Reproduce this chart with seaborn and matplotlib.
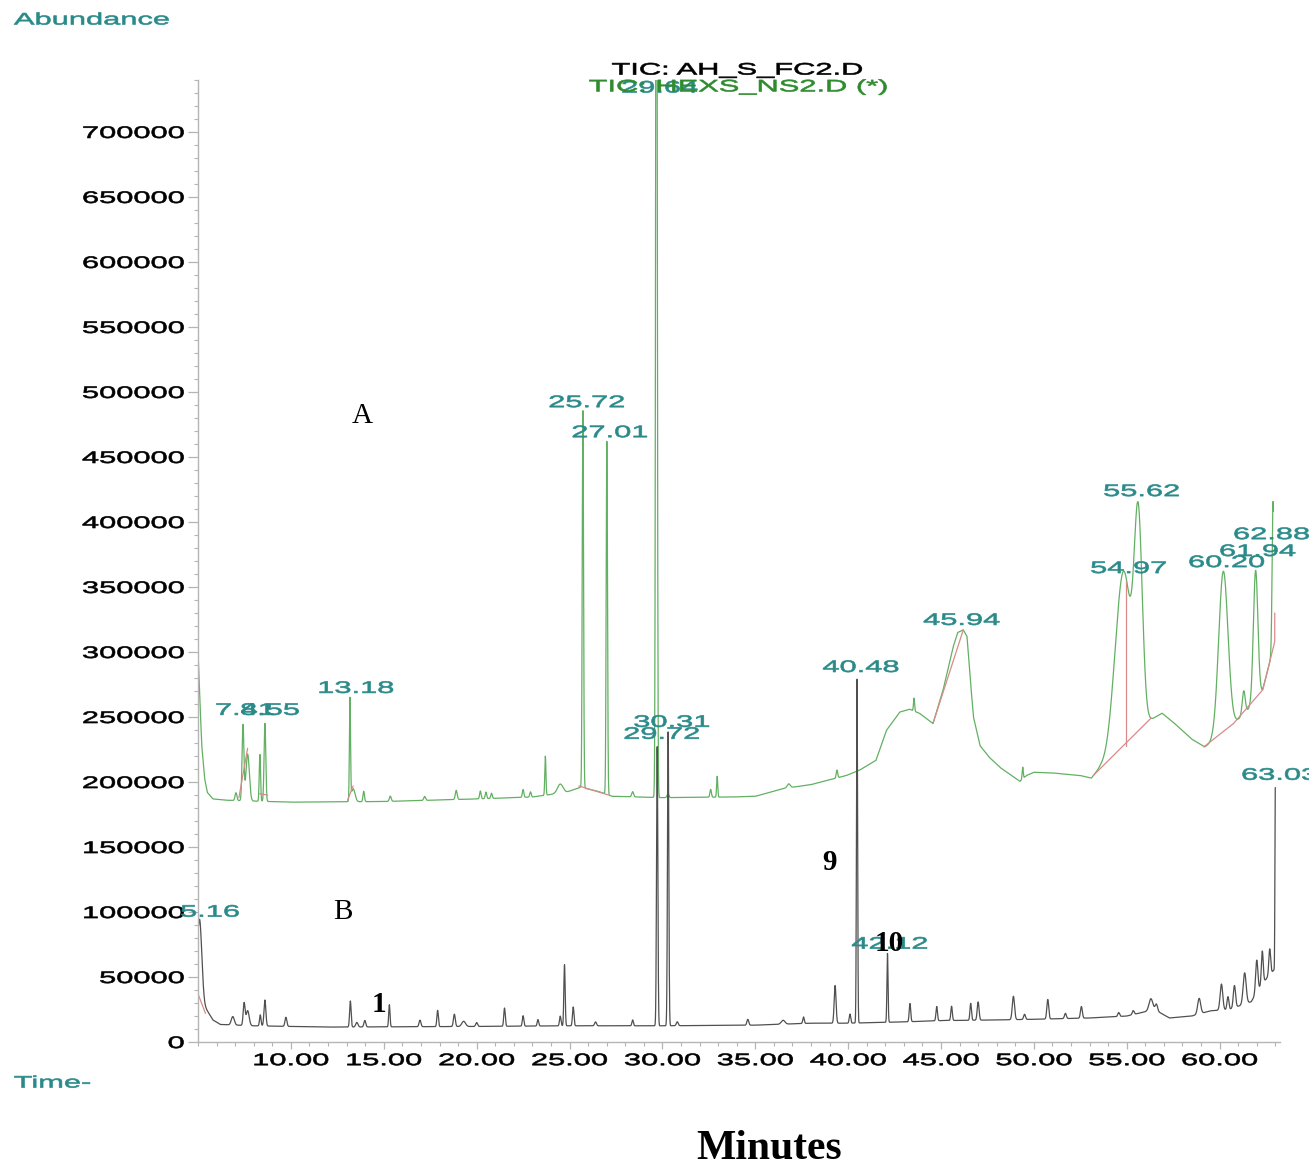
import numpy as np
import pandas as pd
import seaborn as sns
import matplotlib
matplotlib.use("Agg")
import matplotlib.pyplot as plt
from matplotlib.patheffects import AbstractPathEffect
from matplotlib.transforms import Affine2D
from matplotlib.path import Path
from matplotlib.ticker import MultipleLocator, FuncFormatter

# ---------------- data ----------------
# Trace A (green, TIC: HEXS_NS2.D) baseline knots (minutes, abundance)
a_base_t = [5.0, 5.1, 5.2, 5.35, 5.5, 5.8, 6.5, 10, 15, 20, 23, 24.8, 25.6, 26.5, 27.3,
            30, 33.8, 35, 36.5, 38, 39.9, 40.6, 41.5, 42.06, 42.78, 43.3, 43.85, 44.57,
            45.1, 45.65, 45.9, 46.2, 46.4, 46.6, 46.75, 47.1, 47.6, 48.2, 48.8, 49.25, 49.6,
            50.0, 51, 52.5, 53.1, 53.6, 56.2, 56.9, 57.5, 58.5, 59.2, 59.8, 60.75, 61.7,
            62.3, 62.7, 63.0]
a_base_v = [300000, 262000, 228000, 203000, 192000, 187000, 186000, 184500, 185000, 187000,
            188500, 192000, 196000, 193000, 189000, 188000, 188500, 189000, 195000, 198000,
            205000, 209000, 216700, 239700, 253800, 256000, 252800, 245000, 270000, 303700,
            315000, 317000, 312000, 275000, 250000, 228000, 219000, 211000, 205000, 200500,
            205000, 207500, 207000, 205000, 203000, 212000, 247000, 253000, 246000, 233000,
            227000, 232000, 244000, 258000, 270000, 292000, 310000]
# Trace A peaks: retention time, height above baseline, width (sigma, minutes)
a_peak_t = [7.04, 7.42, 7.67, 8.33, 8.6, 13.18, 13.35, 13.92, 15.35, 17.2, 18.9, 20.2, 20.5,
            20.8, 22.5, 22.9, 23.7, 24.5, 25.72, 27.01, 28.4, 29.68, 30.3, 32.6, 32.95, 36.8,
            39.4, 43.55, 49.4, 54.55, 54.97, 55.62, 60.2, 61.3, 61.94, 62.88]
a_peak_h = [6000, 58000, 36000, 36000, 60000, 78000, 10000, 8000, 4000, 3000, 7000, 6000, 5000,
            4000, 6000, 4000, 30000, 7000, 290000, 272000, 4000, 900000, 3000, 6000, 16000, 3000,
            6000, 10000, 9000, 70000, 90400, 162000, 125000, 18000, 100000, 113000]
a_peak_w = [0.05, 0.05, 0.09, 0.035, 0.045, 0.03, 0.1, 0.04, 0.05, 0.05, 0.05, 0.04, 0.04,
            0.04, 0.04, 0.04, 0.03, 0.15, 0.035, 0.035, 0.05, 0.04, 0.05, 0.04, 0.03, 0.08,
            0.04, 0.03, 0.03, 0.35, 0.33, 0.22, 0.25, 0.08, 0.12, 0.05]
a_range = [5.02, 62.9]

# Trace B (dark grey, TIC: AH_S_FC2.D)
b_base_t = [5.0, 5.3, 5.5, 5.8, 6.2, 8, 12, 20, 25, 30, 35, 38, 40, 43, 45, 48, 50, 53, 55,
            56.5, 57.3, 58.5, 59.5, 60.5, 61.7, 62.3, 62.9, 63.1]
b_base_v = [30000, 28000, 24000, 17000, 13500, 12500, 11500, 12000, 12500, 12500, 13000,
            14500, 14500, 15500, 16500, 17000, 17500, 18500, 20000, 25000, 18500, 20000,
            24000, 25000, 31000, 45000, 55000, 58000]
b_peak_t = [5.08, 6.87, 7.48, 7.67, 8.35, 8.6, 9.73, 13.2, 13.55, 13.98, 15.3, 16.95, 17.9,
            18.8, 19.3, 20.0, 21.5, 22.5, 23.3, 24.5, 24.73, 25.2, 26.4, 28.4, 29.72, 30.31,
            30.8, 34.6, 36.5, 37.6, 39.3, 40.1, 40.48, 42.12, 43.33, 44.77, 45.57, 46.6, 47.0,
            48.9, 49.5, 50.75, 51.7, 52.56, 54.57, 55.35, 56.3, 56.6, 58.9, 60.1, 60.45, 60.8,
            61.35, 62.0, 62.3, 62.7, 63.0]
b_peak_h = [65000, 6500, 17000, 11500, 8500, 20000, 7000, 20000, 3500, 5000, 17000, 5000,
            12500, 9500, 4000, 3000, 14000, 8000, 5000, 7500, 47000, 14500, 3000, 4500,
            215000, 226000, 3000, 4500, 3000, 5000, 29000, 7000, 265000, 53000, 14000, 11000,
            11000, 13000, 14000, 18000, 4000, 15000, 4000, 9000, 3000, 3000, 9000, 5000, 12000,
            20000, 10000, 17000, 24000, 25000, 25000, 20000, 140000]
b_peak_w = [0.12, 0.08, 0.05, 0.08, 0.04, 0.05, 0.05, 0.04, 0.06, 0.05, 0.035, 0.05, 0.04,
            0.05, 0.1, 0.05, 0.04, 0.04, 0.04, 0.04, 0.035, 0.04, 0.05, 0.04, 0.035, 0.035,
            0.05, 0.05, 0.1, 0.04, 0.05, 0.04, 0.03, 0.03, 0.04, 0.04, 0.04, 0.04, 0.05,
            0.06, 0.05, 0.05, 0.05, 0.05, 0.05, 0.05, 0.1, 0.06, 0.08, 0.07, 0.05, 0.06,
            0.08, 0.06, 0.05, 0.05, 0.02]
b_range = [5.03, 63.0]

# integration baselines (red)
red_segments = [
    ([5.0, 5.4], [37000, 22000]),
    ([7.2, 7.67], [188000, 226000]),
    ([8.3, 8.75], [191000, 190000]),
    ([13.05, 13.35], [186000, 197000]),
    ([25.5, 27.1], [197000, 190000]),
    ([44.57, 46.2], [245000, 317000]),
    ([53.2, 56.3], [205000, 249000]),
    ([54.97, 54.97], [228000, 355000]),
    ([59.15, 60.75, 62.33, 62.97, 62.97], [227000, 245000, 271000, 308000, 330000]),
]

# retention-time annotations (text, minutes, abundance)
peak_labels = ["25.72", "27.01", "13.18", "7.41", "8.55", "45.94", "54.97", "55.62", "60.20",
               "61.94", "62.88", "40.48", "30.31", "29.72", "5.16", "42.12", "63.03", "29.64"]
peak_label_t = [25.93, 27.17, 13.5, 7.52, 8.87, 46.11, 55.1, 55.8, 60.38, 62.05, 62.8, 40.68,
                30.5, 29.97, 5.64, 42.24, 63.23, 29.86]
peak_label_v = [491800, 468700, 272000, 255100, 255100, 324300, 364200, 423400, 368800, 377300,
                390300, 288100, 245900, 236700, 99900, 75300, 205200, 733800]

# compound numbers / panel letters (text, minutes, abundance, bold)
marks = ["A", "B", "1", "9", "10"]
mark_t = [13.82, 12.8, 14.74, 39.0, 42.24]
mark_v = [481800, 99900, 29200, 138300, 76100]
mark_bold = [False, False, True, True, True]

y_ticks = list(range(0, 700001, 50000))
x_ticks = [10, 15, 20, 25, 30, 35, 40, 45, 50, 55, 60]

# ---------------- styling ----------------
GREEN = "#62b062"
GREY = "#505050"
RED = "#d98a8a"
TEAL = "#2a8a8a"
TITLE_GREEN = "#2e8b2e"
SPINE = "#b5b5b5"
SX = 1.85


class Stretch(AbstractPathEffect):
    """Draws text glyphs widened horizontally (instrument-style wide font)."""

    def __init__(self, sx, ha="center", stroke=0.45):
        super().__init__()
        self.sx = sx
        self.ha = ha
        self.stroke = stroke

    def draw_path(self, renderer, gc, tpath, affine, rgbFace=None):
        v = tpath.vertices
        if tpath.codes is not None:
            v = v[tpath.codes != Path.CLOSEPOLY]
        if len(v) == 0:
            renderer.draw_path(gc, tpath, affine, rgbFace)
            return
        x0, x1 = v[:, 0].min(), v[:, 0].max()
        piv = {"left": x0, "center": 0.5 * (x0 + x1), "right": x1}[self.ha]
        t = Affine2D().translate(-piv, 0).scale(self.sx, 1).translate(piv, 0) + affine
        gc0 = renderer.new_gc()
        gc0.copy_properties(gc)
        if rgbFace is not None:
            gc0.set_foreground(rgbFace)
            gc0.set_linewidth(self.stroke)
        renderer.draw_path(gc0, tpath, t, rgbFace)
        gc0.restore()


def wide(ha):
    return [Stretch(SX, ha)]


sns.set_style("white")
plt.rcParams["font.family"] = ["Liberation Sans", "DejaVu Sans"]


def build(base_t, base_v, pt, ph, pw, rng):
    t = np.arange(rng[0], rng[1] + 1e-9, 0.004)
    v = np.interp(t, base_t, base_v)
    for c, h, w in zip(pt, ph, pw):
        v = v + h * np.exp(-0.5 * ((t - c) / w) ** 2)
    return pd.DataFrame({"t": t, "v": v})


dfA = build(a_base_t, a_base_v, a_peak_t, a_peak_h, a_peak_w, a_range)
dfB = build(b_base_t, b_base_v, b_peak_t, b_peak_h, b_peak_w, b_range)

fig = plt.figure(figsize=(13.09, 11.69), dpi=100)
ax = fig.add_axes([0.1513, 0.1086, 0.8265, 0.8230])

sns.lineplot(data=dfA, x="t", y="v", color=GREEN, linewidth=0.9, estimator=None,
             sort=False, ax=ax)
for st, sv in red_segments:
    sns.lineplot(x=st, y=sv, color=RED, linewidth=0.9, estimator=None, sort=False, ax=ax)
sns.lineplot(data=dfB, x="t", y="v", color=GREY, linewidth=0.9, estimator=None,
             sort=False, ax=ax)

ax.set_xlim(5.0, 63.25)
ax.set_ylim(0, 740000)
ax.set_xlabel("")
ax.set_ylabel("")
sns.despine(ax=ax)
for s in ("left", "bottom"):
    ax.spines[s].set_color(SPINE)
    ax.spines[s].set_linewidth(1.0)

ax.set_yticks(y_ticks)
ax.yaxis.set_minor_locator(MultipleLocator(10000))
ax.set_xticks(x_ticks)
ax.xaxis.set_minor_locator(MultipleLocator(1))
ax.yaxis.set_major_formatter(FuncFormatter(lambda v, p: f"{int(round(v))}"))
ax.xaxis.set_major_formatter(FuncFormatter(lambda v, p: f"{v:.2f}"))
ax.tick_params(axis="y", which="major", length=7, width=0.9, color=SPINE, pad=3,
               labelsize=12, labelcolor="black", left=True)
ax.tick_params(axis="y", which="minor", length=3, width=0.8, color=SPINE, left=True)
ax.tick_params(axis="x", which="major", length=5, width=0.9, color=SPINE, pad=3,
               labelsize=12, labelcolor="black", bottom=True)
ax.tick_params(axis="x", which="minor", length=3, width=0.8, color=SPINE, bottom=True)
for lbl in ax.get_yticklabels():
    lbl.set_path_effects(wide("right"))
for lbl in ax.get_xticklabels():
    lbl.set_path_effects(wide("center"))

# retention time labels
for txt, t, v in zip(peak_labels, peak_label_t, peak_label_v):
    ax.text(t, v, txt, color=TEAL, fontsize=12, ha="center", va="center",
            path_effects=wide("center"), clip_on=False)

# compound numbers and panel letters
for txt, t, v, b in zip(marks, mark_t, mark_v, mark_bold):
    ax.text(t, v, txt, color="black", fontsize=21, ha="center", va="center",
            family=["Liberation Serif", "DejaVu Serif"],
            fontweight="bold" if b else "normal")

# headers
fig.text(0.5630, 0.9400, "TIC: AH_S_FC2.D", color="black", fontsize=12, ha="center",
         va="center", path_effects=wide("center"))
fig.text(0.5638, 0.9256, "TIC: HEXS_NS2.D (*)", color=TITLE_GREEN, fontsize=12,
         ha="center", va="center", path_effects=wide("center"))
fig.text(0.0107, 0.9829, "Abundance", color=TEAL, fontsize=12, ha="left", va="center",
         path_effects=wide("left"))
fig.text(0.0107, 0.0735, "Time-", color=TEAL, fontsize=12, ha="left", va="center",
         path_effects=wide("left"))
fig.text(0.5875, 0.0012, "Minutes", color="black", fontsize=30, fontweight="bold",
         ha="center", va="bottom", family=["Liberation Serif", "DejaVu Serif"])

fig.savefig("out.png", dpi=100)
